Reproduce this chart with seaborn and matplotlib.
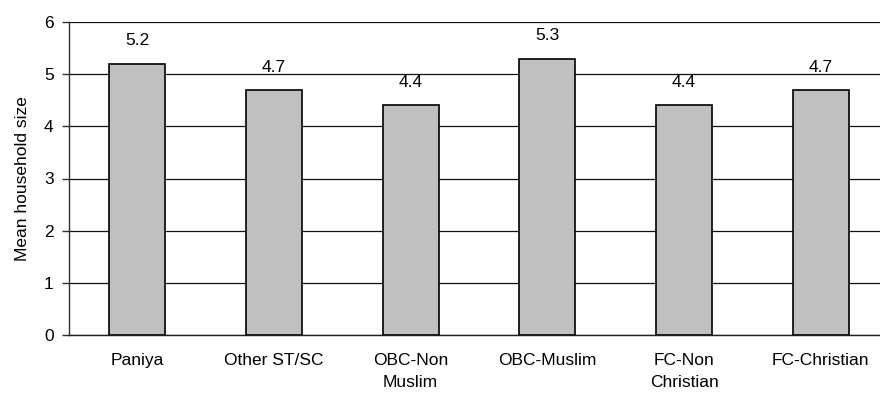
import matplotlib
matplotlib.use("Agg")
import matplotlib.pyplot as plt
import seaborn as sns
import pandas as pd
import numpy as np

categories = ["Paniya", "Other ST/SC", "OBC-Non\nMuslim", "OBC-Muslim", "FC-Non\nChristian", "FC-Christian"]
household_size = [5.2, 4.7, 4.4, 5.3, 4.4, 4.7]
y_ticks = [0, 1, 2, 3, 4, 5, 6]

sns.set_style("white")
plt.rcParams["font.family"] = ["Liberation Sans", "DejaVu Sans"]
plt.rcParams["font.size"] = 12.5
plt.rcParams["text.color"] = "black"
plt.rcParams["axes.labelcolor"] = "black"
plt.rcParams["xtick.color"] = "black"
plt.rcParams["ytick.color"] = "black"

df = pd.DataFrame({"group": categories, "size": household_size})

fig = plt.figure(figsize=(8.8, 3.94), dpi=100)
ax = fig.add_axes([69 / 880, 59 / 394, 820 / 880, 313 / 394])

sns.barplot(data=df, x="group", y="size", color="#C0C0C0", edgecolor="black",
            linewidth=1.2, width=0.41, saturation=1, ax=ax, zorder=3)

ax.set_ylim(0, 6)
ax.set_xlim(-0.5, len(categories) - 0.5)
ax.set_yticks(y_ticks)
ax.set_yticklabels([str(t) for t in y_ticks])
ax.yaxis.grid(True, color="#101010", linewidth=0.9, zorder=0)
ax.set_axisbelow(True)

# category labels centred, tick marks on the boundaries between categories
ax.set_xticks(range(len(categories)))
ax.set_xticklabels(categories, linespacing=1.55)
ax.set_xticks(np.arange(-0.5, len(categories), 1.0), minor=True)
ax.tick_params(axis="x", which="major", length=0, pad=13)
ax.tick_params(axis="x", which="minor", length=5, width=1, color="#303030", direction="out")
ax.tick_params(axis="y", length=5, width=1, color="#303030", direction="out", pad=6, left=True)

for s in ["top", "right"]:
    ax.spines[s].set_visible(False)
ax.spines["left"].set_color("#303030")
ax.spines["bottom"].set_color("#202020")
ax.spines["left"].set_linewidth(1.0)
ax.spines["bottom"].set_linewidth(1.0)

ax.set_xlabel("")
ax.set_ylabel("Mean household size", labelpad=10)

for i, v in enumerate(household_size):
    ax.annotate(f"{v:.1f}", (i, v), xytext=(0, 11), textcoords="offset points",
                ha="center", va="bottom", fontsize=12.5)

fig.savefig("out.png", dpi=100)
